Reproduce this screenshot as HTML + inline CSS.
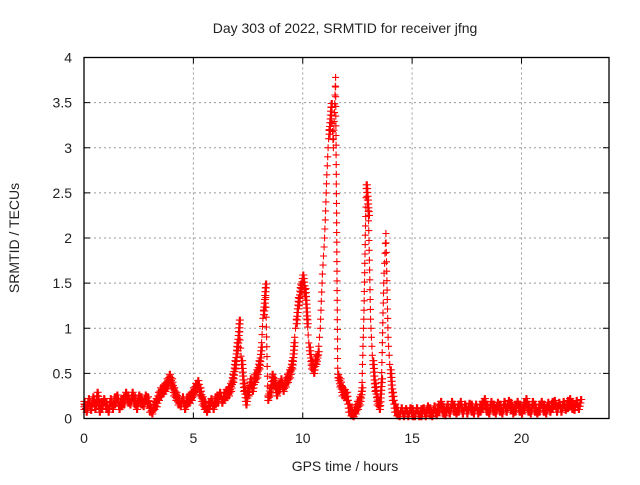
<!DOCTYPE html>
<html><head><meta charset="utf-8"><style>
body{margin:0;background:#fff;}
svg text{font-family:"Liberation Sans",sans-serif;font-size:14px;fill:#222;}
</style></head><body>
<svg id="chart" width="640" height="480" xmlns="http://www.w3.org/2000/svg">
<text x="345" y="33" text-anchor="middle">Day 303 of 2022, SRMTID for receiver jfng</text>
<text x="345" y="471" text-anchor="middle">GPS time / hours</text>
<text transform="translate(19,238) rotate(-90)" text-anchor="middle">SRMTID / TECUs</text>
<g id="grid"></g><g id="ticks"></g><g id="marks"></g>
<rect x="84" y="57.5" width="525" height="361" fill="none" stroke="#000" stroke-width="1.3"/>
</svg>
<script>
const xTicks=[0,5,10,15,20];
const yTicks=[0,0.5,1,1.5,2,2.5,3,3.5,4];
const yTickLabels=["0","0.5","1","1.5","2","2.5","3","3.5","4"];
const t0=0, dt=0.1;
const values=[
0.15,0.12,0.18,0.14,0.2,0.15,0.25,0.12,0.15,0.18,
0.15,0.12,0.18,0.15,0.2,0.22,0.15,0.18,0.2,0.25,
0.22,0.2,0.25,0.2,0.15,0.22,0.2,0.18,0.22,0.2,
0.12,0.1,0.15,0.18,0.25,0.3,0.32,0.35,0.4,0.45,
0.4,0.3,0.25,0.2,0.18,0.2,0.15,0.2,0.22,0.25,
0.3,0.35,0.38,0.3,0.2,0.15,0.12,0.15,0.18,0.15,
0.2,0.22,0.25,0.22,0.25,0.28,0.3,0.35,0.45,0.6,
0.8,1.05,0.6,0.35,0.2,0.3,0.4,0.35,0.45,0.5,
0.6,0.75,1.2,1.45,0.25,0.3,0.45,0.4,0.3,0.35,
0.4,0.35,0.4,0.45,0.5,0.6,0.8,1.1,1.3,1.45,
1.55,1.4,1.1,0.75,0.6,0.55,0.65,0.7,1.0,1.6,
2.0,2.7,3.2,3.45,3.0,3.78,0.45,0.4,0.3,0.28,
0.25,0.12,0.08,0.06,0.1,0.15,0.2,0.3,1.2,2.55,
2.3,1.1,0.6,0.35,0.2,0.15,0.4,1.5,2.05,0.9,
0.5,0.25,0.12,0.08,0.06,0.08,0.06,0.07,0.05,0.08,
0.07,0.06,0.08,0.05,0.07,0.08,0.06,0.1,0.08,0.07,
0.1,0.08,0.12,0.15,0.1,0.08,0.12,0.1,0.15,0.12,
0.1,0.12,0.15,0.1,0.12,0.1,0.13,0.12,0.1,0.12,
0.1,0.12,0.15,0.18,0.12,0.1,0.15,0.12,0.1,0.14,
0.12,0.1,0.15,0.12,0.16,0.14,0.1,0.12,0.15,0.12,
0.1,0.14,0.18,0.12,0.1,0.15,0.12,0.1,0.12,0.15,
0.12,0.1,0.14,0.12,0.15,0.16,0.12,0.14,0.12,0.15,
0.14,0.16,0.18,0.15,0.14,0.16,0.15,0.17
];
const X0=84,X1=609,Y0=418.5,Y1=57.5;
const sx=v=>X0+(v-0)/24*(X1-X0);
const sy=v=>Y0-(v/4)*(Y0-Y1);
const NS="http://www.w3.org/2000/svg";
function mk(tag,parent,attrs){const e=document.createElementNS(NS,tag);for(const k in attrs)e.setAttribute(k,attrs[k]);parent.appendChild(e);return e;}
const grid=document.getElementById('grid'),ticks=document.getElementById('ticks'),marks=document.getElementById('marks');
xTicks.forEach(v=>{
 const x=sx(v);
 if(v>0){const g=mk('line',grid,{x1:x,x2:x,y1:Y1,y2:Y0,stroke:'#999','stroke-dasharray':'2,3'});
 
 }
 mk('line',ticks,{x1:x,x2:x,y1:Y0,y2:Y0-6,stroke:'#000'});
 mk('line',ticks,{x1:x,x2:x,y1:Y1,y2:Y1+6,stroke:'#000'});
 const t=mk('text',ticks,{x:x,y:443,'text-anchor':'middle'});t.textContent=v;
 
 
});
yTicks.forEach((v,i)=>{
 const y=sy(v);
 if(v>0&&v<4){const g=mk('line',grid,{x1:X0,x2:X1,y1:y,y2:y,stroke:'#999','stroke-dasharray':'2,3'});
 
 }
 mk('line',ticks,{x1:X0,x2:X0+6,y1:y,y2:y,stroke:'#000'});
 mk('line',ticks,{x1:X1,x2:X1-6,y1:y,y2:y,stroke:'#000'});
 const t=mk('text',ticks,{x:72,y:y+5,'text-anchor':'end'});t.textContent=yTickLabels[i];
 
 
});
let d='';
function cross(x,y){d+=`M${(x-3.5).toFixed(1)},${y.toFixed(1)}h7M${x.toFixed(1)},${(y-3.5).toFixed(1)}v7`;}
values.forEach((v,i)=>{
 const prev=i>0?values[i-1]:v;
 const span=Math.abs(v-prev);
 const steep=span>0.3;
 const lo=Math.max(0.02,Math.min(prev,v)-(steep?0:0.05)), hi=Math.max(prev,v)+(steep?0:0.04);
 const step=steep?0.11:0.045;
 const n=Math.max(1,Math.ceil((hi-lo)/step));
 for(let k=0;k<=n;k++){
  const f=k/n;
  const val=lo+(hi-lo)*f;
  const tt=t0+i*dt-dt*(prev<v?1-f:f)*(i>0?1:0);
  cross(sx(tt),sy(val));
  if(!steep) cross(sx(tt+dt*0.5),sy(val));
 }
});
const p=mk('path',marks,{d:d,stroke:'#f00','stroke-width':1.1,fill:'none'});


</script>
</body></html>
